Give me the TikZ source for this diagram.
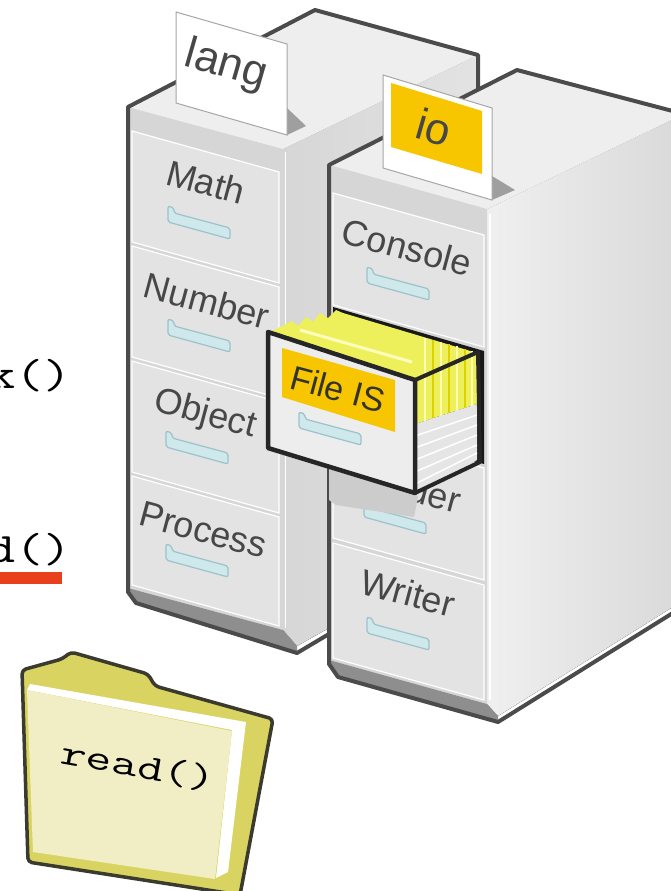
\documentclass[tikz,border=0pt]{standalone}
\usepackage{fontspec}
\setmainfont{Liberation Sans}
\definecolor{linegray}{HTML}{4B4B4B}
\definecolor{frontgray}{HTML}{D6D6D6}
\definecolor{drawergray}{HTML}{E3E3E3}
\definecolor{topgray}{HTML}{EEEEEE}
\definecolor{basegray}{HTML}{8E8E8E}
\definecolor{tagtext}{HTML}{474747}
\definecolor{handlefill}{HTML}{CFE8EC}
\definecolor{handleline}{HTML}{9CC2CA}
\definecolor{gold}{HTML}{F7C600}
\definecolor{folderback}{HTML}{D9D462}
\definecolor{foldercover}{HTML}{F1EEC6}
\definecolor{folderedge}{HTML}{3A3A2E}
\definecolor{paperyellow}{HTML}{EDF05A}
\definecolor{redline}{HTML}{E8401C}
\tikzset{
  cabline/.style={draw=linegray,line width=4pt,line join=round,line cap=round},
  drawer/.style={fill=drawergray,draw=white,line width=1.2pt},
  handle/.style={fill=handlefill,draw=handleline,line width=1.2pt,rounded corners=2pt},
  drawertag/.style={font=\fontsize{36}{40}\selectfont,text=tagtext,rotate=-15,inner sep=0pt},
  flagtag/.style={font=\fontsize{44}{48}\selectfont,text=tagtext,rotate=-16,inner sep=0pt},
  flagcard/.style={fill=white,draw=gray!70,line width=1pt},
  codetext/.style={font=\ttfamily,inner sep=0pt,text=black}
}
\begin{document}
\begin{tikzpicture}[x=1pt,y=-1pt]
\useasboundingbox (0,0) rectangle (671,891);
\clip (0,0) rectangle (671,891);
\fill[white] (0,0) rectangle (671,891);
% lang cabinet
\fill[left color=gray!32,right color=gray!22] (283,149) -- (478,55) -- (478,540) -- (329,628) -- (297,646) -- (283,630) -- cycle;
\fill[topgray] (128,107) -- (315,10) -- (478,55) -- (283,149) -- cycle;
\fill[frontgray] (128,107) -- (283,149) -- (283,630) -- (128,588) -- cycle;
\fill[basegray] (128,588) -- (283,630) -- (297,646) -- (297,653) -- (136,603) -- cycle;
\draw[white,line width=1pt] (285,152) -- (285,628);
\draw[cabline] (329,634) -- (297,653) -- (136,603) -- (128,592) -- (128,107) -- (315,10) -- (478,55) -- (478,95);
\draw[drawer] (132,131) -- (279,172) -- (279,283) -- (132,242) -- cycle;
\draw[drawer] (132,246) -- (279,287) -- (279,398) -- (132,357) -- cycle;
\draw[drawer] (132,361) -- (279,402) -- (279,513) -- (132,472) -- cycle;
\draw[drawer] (132,476) -- (279,517) -- (279,626) -- (132,585) -- cycle;
\node[drawertag] (math) at (206,182) {Math};
\node[drawertag] (number) at (207,301) {Number};
\node[drawertag] (object) at (205,415) {Object};
\node[drawertag] (process) at (203,530) {Process};
\draw[handle] (168,206) -- ++(6,2) -- ++(0,5) -- ++(56,15) -- ++(0,11) -- ++(-62,-17) -- cycle;
\draw[handle] (168,319) -- ++(6,2) -- ++(0,5) -- ++(56,15) -- ++(0,11) -- ++(-62,-17) -- cycle;
\draw[handle] (166,431) -- ++(6,2) -- ++(0,5) -- ++(56,15) -- ++(0,11) -- ++(-62,-17) -- cycle;
\draw[handle] (166,544) -- ++(6,2) -- ++(0,5) -- ++(56,15) -- ++(0,11) -- ++(-62,-17) -- cycle;
% io cabinet
\fill[left color=gray!12,right color=gray!30] (487,209) -- (684,114) -- (684,600) -- (498,716) -- (487,704) -- cycle;
\fill[topgray] (329,165) -- (517,70) -- (684,114) -- (487,209) -- cycle;
\fill[frontgray] (329,165) -- (487,209) -- (487,704) -- (329,660) -- cycle;
\fill[basegray] (329,660) -- (487,704) -- (498,716) -- (498,722) -- (338,677) -- cycle;
\draw[white,line width=1.2pt] (490,214) -- (490,700);
\draw[cabline] (684,606) -- (498,722) -- (338,677) -- (329,664) -- (329,165) -- (517,70) -- (684,114);
\draw[drawer] (333,193) -- (484,235) -- (484,347) -- (333,305) -- cycle;
\draw[drawer] (333,426) -- (484,468) -- (484,580) -- (333,538) -- cycle;
\draw[drawer] (333,543) -- (484,585) -- (484,700) -- (333,658) -- cycle;
\node[drawertag] (console) at (407,247) {Console};
\node[drawertag] (reader) at (403,486) {Reader};
\node[drawertag] (writer) at (408,593) {Writer};
\draw[handle] (367,267) -- ++(6,2) -- ++(0,5) -- ++(56,15) -- ++(0,11) -- ++(-62,-17) -- cycle;
\draw[handle] (364,501) -- ++(6,2) -- ++(0,5) -- ++(56,15) -- ++(0,11) -- ++(-62,-17) -- cycle;
\draw[handle] (367,617) -- ++(6,2) -- ++(0,5) -- ++(56,15) -- ++(0,11) -- ++(-62,-17) -- cycle;
% flags
\fill[gray!75] (287,108) -- (306,126) -- (287,135) -- cycle;
\draw[flagcard] (176,12) -- (287,44) -- (287,135) -- (176,103) -- cycle;
\node[flagtag] (lang) at (226,66) {lang};
\fill[gray!75] (492,176) -- (515,190) -- (492,200) -- cycle;
\draw[flagcard] (383,75) -- (492,108) -- (492,200) -- (383,168) -- cycle;
\fill[gold] (391,83) -- (482,111) -- (482,174) -- (391,147) -- cycle;
\node[flagtag] (io) at (434,127) {io};
% open drawer
\fill[gray!40!white] (329,452) -- (415,493) -- (418,497) -- (414,517) -- (336,505) -- (329,500) -- cycle;
\fill[black!90] (333,307) -- (484,351) -- (484,464) -- (333,422) -- cycle;
\fill[paperyellow] (268,333) -- (292,321) -- (298,326) -- (306,317) -- (313,322) -- (320,313) -- (328,318) -- (336,310) -- (343,313) -- (477,353) -- (477,404) -- (415,424) -- (415,380) -- cycle;
\draw[yellow!25!white,line width=3pt] (300,330) -- (412,362);
\draw[yellow!30!white,line width=2.5pt] (425,338) -- (425,430);
\draw[yellow!70!olive,line width=1.5pt] (433,340) -- (433,430);
\draw[yellow!30!white,line width=2.5pt] (441,342) -- (441,430);
\draw[yellow!70!olive,line width=1.5pt] (449,344) -- (449,430);
\draw[yellow!30!white,line width=2.5pt] (457,346) -- (457,430);
\draw[yellow!70!olive,line width=1.5pt] (465,349) -- (465,430);
\draw[yellow!30!white,line width=2.5pt] (472,351) -- (472,430);
\fill[gray!20] (415,424) -- (477,404) -- (477,460) -- (415,492) -- cycle;
\draw[white,line width=1.5pt] (415,436) -- (477,415);
\draw[white,line width=1.5pt] (415,448) -- (477,425);
\draw[white,line width=1.5pt] (415,460) -- (477,435);
\draw[white,line width=1.5pt] (415,472) -- (477,445);
\draw[white,line width=1.5pt] (415,484) -- (477,453);
\draw[black!85,line width=4pt,line join=round] (415,380) -- (478,352) -- (480,462) -- (415,493);
\draw[fill=gray!14,draw=black!85,line width=4.5pt,line join=round] (268,332) -- (415,380) -- (415,493) -- (268,448) -- cycle;
\draw[handle] (299,412) -- ++(6,2) -- ++(0,5) -- ++(56,15) -- ++(0,11) -- ++(-62,-17) -- cycle;
\fill[gold] (282,348) -- (395,380) -- (395,432) -- (282,397) -- cycle;
\node[drawertag,font=\fontsize{34}{38}\selectfont,text=black!80] (fileis) at (338,389) {File IS};
% folder
\draw[fill=folderback,draw=folderedge,line width=3.5pt,line join=round,rounded corners=4pt] (22,670) -- (62,659) -- (71,652) -- (148,674) -- (155,686) -- (273,719) -- (240,895) -- (28,862) -- cycle;
\fill[white] (30,684) -- (246,722) -- (228,872) -- (216,878) -- (232,730) -- (27,690) -- cycle;
\fill[foldercover] (27,690) -- (232,731) -- (215,879) -- (33,852) -- cycle;
\node[codetext,rotate=-10,xscale=1.4,font=\ttfamily\fontsize{36}{40}\selectfont,anchor=base] (readfolder) at (136,777) {read()};
% calls
\node[codetext,xscale=1.3,font=\ttfamily\fontsize{42}{46}\selectfont,anchor=base west] (markcall) at (-13,388) {k()};
\node[codetext,xscale=1.3,font=\ttfamily\fontsize{42}{46}\selectfont,anchor=base west] (readcall) at (-13,562) {d()};
\fill[redline] (0,572) rectangle (62,584);
\end{tikzpicture}
\end{document}
